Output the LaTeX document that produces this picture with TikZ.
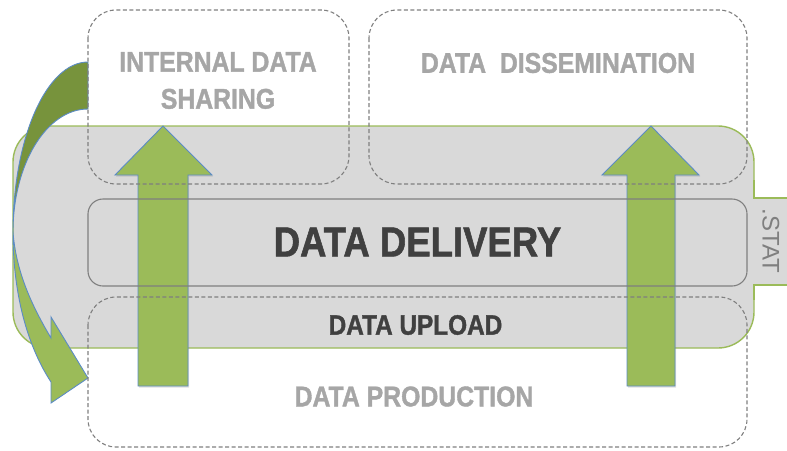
\documentclass[tikz,border=0pt]{standalone}
\usepackage{fontspec}
\newfontfamily\narf[FakeStretch=0.87, BoldFeatures={FakeBold=1.3}]{Liberation Sans}
\newfontfamily\statf{Liberation Sans}
\usetikzlibrary{shadows}
\definecolor{bandgray}{HTML}{D9D9D9}
\definecolor{bandgreen}{HTML}{9BBB59}
\definecolor{arrowgreen}{HTML}{9BBB59}
\definecolor{darkgreen}{HTML}{77933C}
\definecolor{edgeblue}{HTML}{5B8BC6}
\definecolor{boxgray}{HTML}{7F7F7F}
\definecolor{lighttext}{HTML}{A6A6A6}
\definecolor{darktext}{HTML}{404040}
\tikzset{
  band/.style={fill=bandgray, draw=bandgreen, line width=1.4pt},
  bigarrow/.style={fill=arrowgreen, draw=edgeblue, line width=0.9pt, line join=miter},
  backarrow/.style={fill=darkgreen, draw=edgeblue, line width=0.9pt},
  dashbox/.style={draw=boxgray, line width=1.1pt, dash pattern=on 4pt off 2.5pt, rounded corners=28pt},
  solidbox/.style={draw=boxgray, line width=1.1pt, rounded corners=15pt},
  lighttitle/.style={text=lighttext, font=\narf\bfseries\fontsize{28.5}{37}\selectfont, inner sep=0pt, align=center},
  darktitle/.style={text=darktext, font=\narf\bfseries\fontsize{28}{34}\selectfont, inner sep=0pt},
  hugetitle/.style={text=darktext, font=\narf\bfseries\fontsize{42}{48}\selectfont, inner sep=0pt},
  stattext/.style={text=boxgray, font=\statf\fontsize{24}{28}\selectfont, inner sep=0pt, rotate=-90},
}
\begin{document}
\begin{tikzpicture}[x=1pt,y=-1pt]
\useasboundingbox (0,0) rectangle (787,450);
% grey .STAT band
\draw[band, rounded corners=36pt] (13,126) rectangle (754,348);
\fill[bandgray] (752.5,198.7) rectangle (790,284.3);
\draw[bandgreen, line width=1.4pt] (754,198) -- (790,198);
\draw[bandgreen, line width=1.4pt] (754,285) -- (790,285);
\draw[bandgreen, line width=1.4pt] (754,180) -- (754,198.7);
\draw[bandgreen, line width=1.4pt] (754,284.3) -- (754,300);
\node[stattext] (stat) at (771,241) {.STAT};
% straight arrows
\draw[bigarrow, drop shadow={opacity=0.25, shadow xshift=1pt, shadow yshift=-1.5pt}]
  (138,386) -- (138,175) -- (115,175) -- (163,126) -- (212,175) -- (188,175) -- (188,386) -- cycle;
\draw[bigarrow, drop shadow={opacity=0.25, shadow xshift=1pt, shadow yshift=-1.5pt}]
  (627,386) -- (627,175) -- (602,175) -- (651,126) -- (699,175) -- (675,175) -- (675,386) -- cycle;
% curved arrow
\coordinate (ca) at (88,62);
\coordinate (cb) at (88,109);
\coordinate (cm) at (13,232);
\draw[backarrow] (ca) .. controls (46.6,62) and (13,138) .. (cm)
  .. controls (13,164) and (46.6,109) .. (cb) -- cycle;
\draw[bigarrow] (cm) .. controls (13,300) and (30,350) .. (51,382)
  -- (51,403) -- (88,378) -- (51,317) -- (51,338)
  .. controls (32,306) and (16,272) .. (cm) -- cycle;
% boxes
\draw[dashbox] (88,10) rectangle (349,184);
\draw[dashbox] (369,10) rectangle (747,184);
\draw[dashbox] (88,297) rectangle (747,447);
\draw[solidbox] (88,199) rectangle (747,286);
% texts
\node[lighttitle] (ids) at (218,80.5) {INTERNAL DATA\\SHARING};
\node[lighttitle] (dis) at (558,63) {DATA\ \ DISSEMINATION};
\node[hugetitle] (del) at (417.5,242) {DATA DELIVERY};
\node[darktitle] (upl) at (415.5,325) {DATA UPLOAD};
\node[lighttitle] (pro) at (414,396.5) {DATA PRODUCTION};
\end{tikzpicture}
\end{document}
